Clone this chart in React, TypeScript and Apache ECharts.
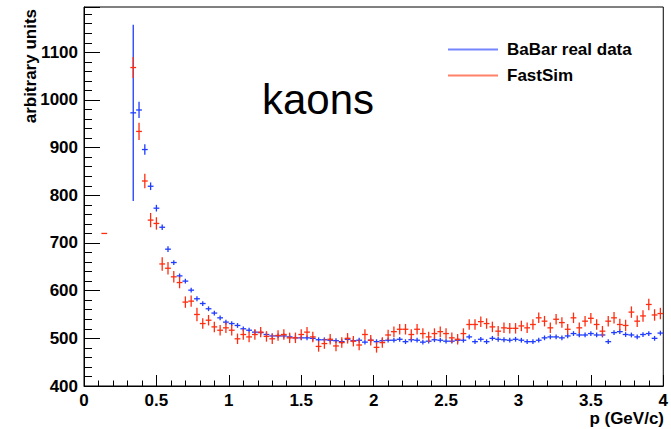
import React, { useEffect, useRef } from "react";
import * as echarts from "echarts";

// Histogram binning: 100 bins from 0 to 4 GeV/c
const binWidth = 0.04;
const firstBin = 8; // first bin index of the main arrays

// BaBar real data (bins 8..99)
const babarValues = [
  973, 979, 896, 819, 773, 733, 687, 659, 631, 620, 601, 583,
  573, 562, 553, 543, 534, 531, 527, 520, 517, 513, 512, 508,
  505, 505, 505, 503, 501, 501, 501, 500, 497, 497, 496, 495,
  493, 498, 495, 496, 492, 496, 493, 495, 496, 496, 498, 493,
  497, 496, 492, 494, 497, 496, 494, 494, 496, 496, 503, 493,
  498, 493, 500, 498, 497, 496, 498, 496, 493, 493, 496, 501,
  503, 503, 501, 505, 510, 507, 507, 510, 507, 507, 493, 512,
  514, 508, 507, 503, 508, 510, 500, 511,
];
const babarErrors = [
  185, 17, 11, 8, 7, 6, 6, 5, 5, 5, 5, 5,
  5, 5, 5, 5, 5, 5, 5, 5, 5, 5, 5, 5,
  5, 5, 5, 5, 5, 5, 5, 5, 5, 5, 5, 5,
  5, 5, 5, 5, 5, 5, 5, 5, 5, 5, 5, 5,
  5, 5, 5, 5, 5, 5, 5, 5, 5, 5, 5, 5,
  5, 5, 5, 5, 5, 5, 5, 5, 5, 5, 5, 5,
  5, 5, 5, 5, 5, 5, 5, 5, 5, 5, 5, 5,
  5, 5, 5, 5, 5, 5, 5, 5,
];

// FastSim (bins 8..99) plus one isolated low-momentum bin
const fastSimLowBin = 3;
const fastSimLowValue = 720;
const fastSimLowError = 1;
const fastSimValues = [
  1068, 934, 830, 748, 741, 656, 647, 629, 617, 576, 578, 550,
  531, 538, 524, 517, 522, 517, 499, 508, 503, 508, 513, 504,
  499, 506, 508, 501, 501, 508, 513, 503, 483, 489, 498, 484,
  491, 500, 494, 486, 508, 496, 481, 491, 507, 514, 519, 519,
  508, 519, 510, 503, 510, 514, 510, 501, 498, 510, 529, 529,
  535, 531, 524, 515, 522, 521, 521, 526, 522, 529, 543, 536,
  522, 540, 533, 519, 543, 522, 536, 542, 529, 515, 536, 543,
  529, 527, 555, 536, 547, 571, 549, 552,
];
const fastSimErrors = [
  22, 18, 15, 15, 13, 14, 13, 12, 12, 12, 12, 14,
  11, 11, 11, 11, 11, 11, 11, 11, 11, 11, 11, 11,
  11, 11, 11, 11, 11, 11, 11, 11, 11, 11, 11, 11,
  11, 11, 11, 11, 11, 11, 11, 11, 11, 11, 11, 11,
  11, 11, 11, 11, 11, 11, 11, 11, 11, 11, 11, 11,
  11, 11, 11, 11, 11, 11, 11, 11, 11, 11, 11, 11,
  11, 11, 11, 11, 11, 11, 11, 11, 11, 11, 11, 12,
  12, 12, 12, 12, 12, 12, 12, 12,
];

const seriesNames = ["BaBar real data", "FastSim"];
const BLUE = "#1f3cff";
const RED = "#ff2d10";
const FONT = "'Liberation Sans', Arial, Helvetica, sans-serif";

const binCenter = (k: number) => +(binWidth * (k + 0.5)).toFixed(4);

function toPoints(values: number[], errors: number[], start: number) {
  return values.map((v, i) => [binCenter(start + i), v, errors[i]]);
}

function makeRenderItem(color: string) {
  return (params: any, api: any) => {
    const x = api.value(0);
    const y = api.value(1);
    const e = api.value(2);
    const c = api.coord([x, y]);
    const top = api.coord([x, y + e]);
    const bot = api.coord([x, y - e]);
    const l = api.coord([x - binWidth / 2, y]);
    const r = api.coord([x + binWidth / 2, y]);
    return {
      type: "group",
      children: [
        {
          type: "line",
          shape: { x1: l[0], y1: c[1], x2: r[0], y2: c[1] },
          style: { stroke: color, lineWidth: 1.3 },
        },
        {
          type: "line",
          shape: { x1: c[0], y1: top[1], x2: c[0], y2: bot[1] },
          style: { stroke: color, lineWidth: 1.3 },
        },
      ],
    };
  };
}

export default function App() {
  const ref = useRef<HTMLDivElement>(null);
  useEffect(() => {
    if (!ref.current) return;
    const chart = echarts.init(ref.current, null, { renderer: "svg" });
    const babarData = toPoints(babarValues, babarErrors, firstBin);
    const fastData = [
      [binCenter(fastSimLowBin), fastSimLowValue, fastSimLowError],
      ...toPoints(fastSimValues, fastSimErrors, firstBin),
    ];
    const option: any = {
      animation: false,
      backgroundColor: "#ffffff",
      grid: {
        left: 84,
        right: 6,
        top: 7,
        bottom: 43,
        show: true,
        borderColor: "#000",
        borderWidth: 1,
        backgroundColor: "transparent",
      },
      legend: {
        orient: "vertical",
        left: 443,
        top: 36,
        icon: "rect",
        itemWidth: 50,
        itemHeight: 2,
        itemGap: 9,
        textStyle: {
          fontFamily: FONT,
          fontWeight: "bold",
          fontSize: 17,
          color: "#000",
          lineHeight: 17,
          padding: [0, 0, 0, 4],
        },
        data: [
          { name: seriesNames[0], itemStyle: { color: "#7586ff" } },
          { name: seriesNames[1], itemStyle: { color: "#ff8268" } },
        ],
      },
      xAxis: {
        type: "value",
        min: 0,
        max: 4,
        interval: 0.5,
        axisLine: { show: true, lineStyle: { color: "#000", width: 1 } },
        axisTick: { show: true, inside: true, length: 11, lineStyle: { color: "#000" } },
        minorTick: { show: true, splitNumber: 5, length: 5.5, lineStyle: { color: "#000" } },
        splitLine: { show: false },
        axisLabel: {
          margin: 6,
          fontFamily: FONT,
          fontWeight: "bold",
          fontSize: 17,
          color: "#000",
          formatter: (v: number) => String(v),
        },
      },
      yAxis: {
        type: "value",
        min: 400,
        max: 1195,
        interval: 100,
        axisLine: { show: true, lineStyle: { color: "#000", width: 1 } },
        axisTick: { show: true, inside: true, length: 16, lineStyle: { color: "#000" } },
        minorTick: { show: true, splitNumber: 5, length: 8, lineStyle: { color: "#000" } },
        splitLine: { show: false },
        axisLabel: {
          margin: 6,
          fontFamily: FONT,
          fontWeight: "bold",
          fontSize: 17,
          color: "#000",
          formatter: (v: number) => (v % 100 === 0 ? String(v) : ""),
        },
      },
      graphic: [
        {
          type: "text",
          left: 262,
          top: 78,
          style: {
            text: "kaons",
            font: `42px ${FONT}`,
            fill: "#000",
          },
        },
        {
          type: "text",
          x: 664,
          y: 418,
          style: {
            text: "p (GeV/c)",
            font: `bold 17px ${FONT}`,
            fill: "#000",
            textAlign: "right",
            textVerticalAlign: "middle",
          },
        },
        {
          type: "text",
          x: 30,
          y: 9,
          rotation: Math.PI / 2,
          style: {
            text: "arbitrary units",
            font: `bold 17px ${FONT}`,
            fill: "#000",
            textAlign: "right",
            textVerticalAlign: "middle",
          },
        },
      ],
      series: [
        {
          name: seriesNames[0],
          type: "custom",
          itemStyle: { color: BLUE },
          renderItem: makeRenderItem(BLUE),
          data: babarData,
          encode: { x: 0, y: 1 },
          z: 2,
        },
        {
          name: seriesNames[1],
          type: "custom",
          itemStyle: { color: RED },
          renderItem: makeRenderItem(RED),
          data: fastData,
          encode: { x: 0, y: 1 },
          z: 3,
        },
      ],
    };
    chart.setOption(option);
    return () => chart.dispose();
  }, []);
  return (
    <div
      ref={ref}
      style={{ position: "fixed", left: 0, top: 0, width: 671, height: 429, background: "#fff" }}
    />
  );
}
